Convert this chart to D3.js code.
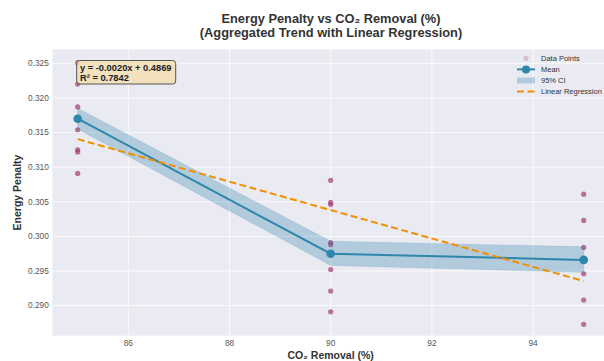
<!DOCTYPE html>
<html>
<head>
<meta charset="utf-8">
<script src="https://cdn.jsdelivr.net/npm/d3@7"></script>
<style>
  html, body { margin: 0; padding: 0; background: #fff; }
  svg { display: block; font-family: "Liberation Sans", Arial, sans-serif; }
</style>
</head>
<body>
<script>
// Raw observations (CO2 removal %, energy penalty)
const point85 = [0.3251, 0.3220, 0.3187, 0.3154, 0.3125, 0.3122, 0.3091];
const point90 = [0.3081, 0.3049, 0.3046, 0.2991, 0.2988, 0.2952, 0.2921, 0.2891];
const point95 = [0.3061, 0.3023, 0.2984, 0.2946, 0.2908, 0.2873];

// Aggregates per removal level
const removalLevels = [85, 90, 95];
const meanValues = [0.3170, 0.2975, 0.2966];
const ciLower = [0.3155, 0.2958, 0.2948];
const ciUpper = [0.3185, 0.2993, 0.2985];

// Regression line drawn across the removal range
const regSlope = -0.00205;
const regIntercept = 0.4883;
const regLabel = ['y = -0.0020x + 0.4869', 'R\u00b2 = 0.7842'];

const xTicks = [86, 88, 90, 92, 94];
const yTicks = [0.290, 0.295, 0.300, 0.305, 0.310, 0.315, 0.320, 0.325];

const Constants = {
  width: 604,
  height: 361,
  left: 52.4,
  right: 609,
  top: 49.3,
  bottom: 335.7,
  plotBg: '#eaeaf2',
  pointColor: '#A23B72',
  meanColor: '#2E86AB',
  regColor: '#F18F01',
};

const points = [
  ...point85.map(v => ({ x: 85, y: v })),
  ...point90.map(v => ({ x: 90, y: v })),
  ...point95.map(v => ({ x: 95, y: v })),
];
const means = removalLevels.map((x, i) => ({ x, y: meanValues[i], lo: ciLower[i], hi: ciUpper[i] }));

const x = d3.scaleLinear().domain([84.5, 95.5]).range([Constants.left, Constants.right]);
const y = d3.scaleLinear().domain([0.28565, 0.32703]).range([Constants.bottom, Constants.top]);

const svg = d3.select('body')
  .append('svg')
  .attr('width', Constants.width)
  .attr('height', Constants.height);

svg.append('defs').append('clipPath').attr('id', 'plot-clip')
  .append('rect')
  .attr('x', Constants.left).attr('y', Constants.top)
  .attr('width', Constants.right - Constants.left)
  .attr('height', Constants.bottom - Constants.top);

// Plot background
svg.append('rect')
  .attr('x', Constants.left).attr('y', Constants.top)
  .attr('width', Constants.right - Constants.left)
  .attr('height', Constants.bottom - Constants.top)
  .attr('fill', Constants.plotBg);

// Grid
svg.append('g')
  .selectAll('line')
  .data(xTicks)
  .enter()
  .append('line')
  .attr('x1', d => x(d)).attr('x2', d => x(d))
  .attr('y1', Constants.top).attr('y2', Constants.bottom)
  .attr('stroke', '#fff').attr('stroke-width', 0.8);

svg.append('g')
  .selectAll('line')
  .data(yTicks)
  .enter()
  .append('line')
  .attr('x1', Constants.left).attr('x2', Constants.right)
  .attr('y1', d => y(d)).attr('y2', d => y(d))
  .attr('stroke', '#fff').attr('stroke-width', 0.8);

const plot = svg.append('g').attr('clip-path', 'url(#plot-clip)');

// Scatter of raw points
plot.append('g')
  .selectAll('circle')
  .data(points)
  .enter()
  .append('circle')
  .attr('cx', d => x(d.x))
  .attr('cy', d => y(d.y))
  .attr('r', 2.6)
  .attr('fill', Constants.pointColor)
  .attr('opacity', 0.7);

// 95% CI band
plot.append('path')
  .datum(means)
  .attr('d', d3.area().x(d => x(d.x)).y0(d => y(d.lo)).y1(d => y(d.hi)))
  .attr('fill', Constants.meanColor)
  .attr('fill-opacity', 0.3)
  .attr('stroke', Constants.meanColor)
  .attr('stroke-opacity', 0.15);

// Mean line + markers
plot.append('path')
  .datum(means)
  .attr('d', d3.line().x(d => x(d.x)).y(d => y(d.y)))
  .attr('fill', 'none')
  .attr('stroke', Constants.meanColor)
  .attr('stroke-width', 2);

plot.append('g')
  .selectAll('circle')
  .data(means)
  .enter()
  .append('circle')
  .attr('cx', d => x(d.x))
  .attr('cy', d => y(d.y))
  .attr('r', 4.3)
  .attr('fill', Constants.meanColor);

// Regression line
const regX = d3.extent(removalLevels);
plot.append('line')
  .attr('x1', x(regX[0])).attr('y1', y(regSlope * regX[0] + regIntercept))
  .attr('x2', x(regX[1])).attr('y2', y(regSlope * regX[1] + regIntercept))
  .attr('stroke', Constants.regColor)
  .attr('stroke-width', 2)
  .attr('stroke-dasharray', '7,3.5');

// Tick labels
svg.append('g')
  .selectAll('text')
  .data(yTicks)
  .enter()
  .append('text')
  .attr('x', 48.8)
  .attr('y', d => y(d))
  .attr('dy', '0.35em')
  .attr('text-anchor', 'end')
  .attr('font-size', 8.3)
  .attr('fill', '#555')
  .text(d => d3.format('.3f')(d));

svg.append('g')
  .selectAll('text')
  .data(xTicks)
  .enter()
  .append('text')
  .attr('x', d => x(d))
  .attr('y', 346)
  .attr('text-anchor', 'middle')
  .attr('font-size', 8.3)
  .attr('fill', '#555')
  .text(d => d);

// Axis labels
svg.append('text')
  .attr('x', (Constants.left + Constants.right) / 2)
  .attr('y', 358.5)
  .attr('text-anchor', 'middle')
  .attr('font-size', 10.5)
  .attr('font-weight', 'bold')
  .attr('fill', '#333')
  .text('CO\u2082 Removal (%)');

svg.append('text')
  .attr('transform', `translate(21, ${(Constants.top + Constants.bottom) / 2}) rotate(-90)`)
  .attr('text-anchor', 'middle')
  .attr('font-size', 10.5)
  .attr('font-weight', 'bold')
  .attr('fill', '#333')
  .text('Energy Penalty');

// Title
const title = ['Energy Penalty vs CO\u2082 Removal (%)', '(Aggregated Trend with Linear Regression)'];
svg.append('g')
  .selectAll('text')
  .data(title)
  .enter()
  .append('text')
  .attr('x', 331)
  .attr('y', (d, i) => 22.5 + i * 14.5)
  .attr('text-anchor', 'middle')
  .attr('font-size', 12.8)
  .attr('font-weight', 'bold')
  .attr('fill', '#333')
  .text(d => d);

// Regression annotation box
const note = svg.append('g');
note.append('rect')
  .attr('x', 76.7).attr('y', 60.5)
  .attr('width', 99).attr('height', 23.5)
  .attr('rx', 3)
  .attr('fill', '#f5deb3')
  .attr('fill-opacity', 0.85)
  .attr('stroke', '#555')
  .attr('stroke-width', 1);
note.selectAll('text')
  .data(regLabel)
  .enter()
  .append('text')
  .attr('x', 80)
  .attr('y', (d, i) => 70.8 + i * 10.5)
  .attr('font-size', 9.3)
  .attr('font-weight', 'bold')
  .attr('fill', '#222')
  .text(d => d);

// Legend
const legend = svg.append('g');
const legendItems = ['Data Points', 'Mean', '95% CI', 'Linear Regression'];
const ly = i => 58.3 + i * 11.1;
const lx0 = 517, lx1 = 535, lxm = 526;

legend.append('circle')
  .attr('cx', lxm).attr('cy', ly(0)).attr('r', 2.6)
  .attr('fill', Constants.pointColor).attr('opacity', 0.25);
legend.append('line')
  .attr('x1', lx0).attr('x2', lx1).attr('y1', ly(1)).attr('y2', ly(1))
  .attr('stroke', Constants.meanColor).attr('stroke-width', 2);
legend.append('circle')
  .attr('cx', lxm).attr('cy', ly(1)).attr('r', 4)
  .attr('fill', Constants.meanColor);
legend.append('rect')
  .attr('x', lx0).attr('y', ly(2) - 3).attr('width', lx1 - lx0).attr('height', 6)
  .attr('fill', Constants.meanColor).attr('fill-opacity', 0.3);
legend.append('line')
  .attr('x1', lx0).attr('x2', lx1).attr('y1', ly(3)).attr('y2', ly(3))
  .attr('stroke', Constants.regColor).attr('stroke-width', 2)
  .attr('stroke-dasharray', '7,3.5');

legend.selectAll('text')
  .data(legendItems)
  .enter()
  .append('text')
  .attr('x', 541)
  .attr('y', (d, i) => ly(i))
  .attr('dy', '0.35em')
  .attr('font-size', 7.5)
  .attr('fill', '#333')
  .text(d => d);
</script>
</body>
</html>
